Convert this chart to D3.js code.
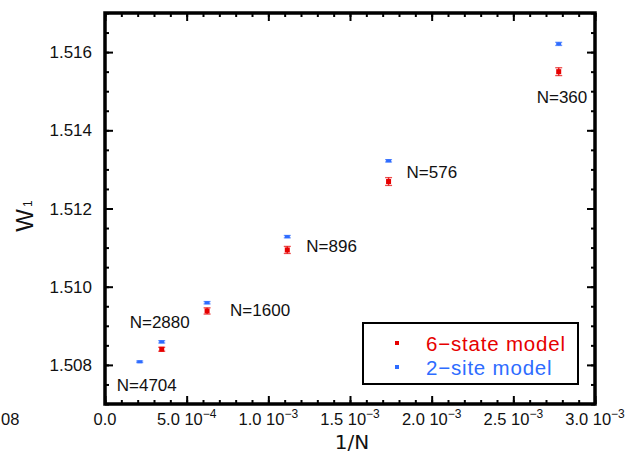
<!DOCTYPE html>
<html><head><meta charset="utf-8">
<script src="https://cdn.jsdelivr.net/npm/d3@7"></script>
<style>
html,body{margin:0;padding:0;background:#fff;}
svg{display:block;}
</style></head>
<body>
<svg id="c" width="635" height="454"></svg>
<script>
// ---- data ----
const sizesN = [360, 576, 896, 1600, 2880, 4704];
const sixStateW = [1.51550, 1.51269, 1.51094, 1.50938, 1.50840, null];
const sixStateErr = [0.00010, 0.00010, 0.00009, 0.00008, 0.00005, null];
const twoSiteW = [1.51621, 1.51322, 1.51128, 1.50959, 1.50859, 1.50808];
const twoSiteErr = [0.00004, 0.00003, 0.00003, 0.00003, 0.00003, 0.00002];
const xTickValues = [0, 0.0005, 0.0010, 0.0015, 0.0020, 0.0025, 0.0030];
const xTickMantissa = ["0.0", "5.0", "1.0", "1.5", "2.0", "2.5", "3.0"];
const xTickExponent = [null, "\u22124", "\u22123", "\u22123", "\u22123", "\u22123", "\u22123"];
const yTickValues = [1.508, 1.510, 1.512, 1.514, 1.516];
const yTickLabels = ["1.508", "1.510", "1.512", "1.514", "1.516"];
const seriesNames = ["6\u2212state model", "2\u2212site model"];
const seriesColors = ["#e60000", "#2e6cff"];

// ---- layout ----
const svg = d3.select("#c");
const L = 105, R = 595, T = 13, B = 404;
const x = d3.scaleLinear().domain([0, 0.003]).range([L, R]);
const y = d3.scaleLinear().domain([1.507, 1.517]).range([B, T]);
const numFont = "'Liberation Sans', Arial, sans-serif";

// minor + major ticks (inward) on all four sides
const xMinor = d3.range(0, 0.00301, 0.0001);
const yMinor = d3.range(1.507, 1.51701, 0.0005);
function tickGroup(axis, tx, ty) {
  const g = svg.append("g").attr("transform", `translate(${tx},${ty})`).call(axis);
  g.select(".domain").remove();
  g.selectAll("text").remove();
  g.selectAll("line").attr("stroke", "#000").attr("stroke-width", 2);
}
tickGroup(d3.axisBottom(x).tickValues(xMinor).tickSize(-4), 0, B);
tickGroup(d3.axisBottom(x).tickValues(xTickValues).tickSize(-8), 0, B);
tickGroup(d3.axisTop(x).tickValues(xMinor).tickSize(-4), 0, T);
tickGroup(d3.axisTop(x).tickValues(xTickValues).tickSize(-8), 0, T);
tickGroup(d3.axisLeft(y).tickValues(yMinor).tickSize(-4), L, 0);
tickGroup(d3.axisLeft(y).tickValues(yTickValues).tickSize(-8), L, 0);
tickGroup(d3.axisRight(y).tickValues(yMinor).tickSize(-4), R, 0);
tickGroup(d3.axisRight(y).tickValues(yTickValues).tickSize(-8), R, 0);

// frame
svg.append("rect").attr("x", L).attr("y", T).attr("width", R - L).attr("height", B - T)
  .attr("fill", "none").attr("stroke", "#000").attr("stroke-width", 3.5);

// y tick labels
svg.append("g").selectAll("text").data(yTickValues).join("text")
  .attr("x", L - 13).attr("y", d => y(d)).attr("dy", "0.36em")
  .attr("text-anchor", "end").attr("font-family", numFont).attr("font-size", 17)
  .attr("fill", "#111").text((d, i) => yTickLabels[i]);

// x tick labels
const xl = svg.append("g").selectAll("text").data(xTickValues).join("text")
  .attr("x", d => x(d)).attr("y", 425)
  .attr("text-anchor", "middle").attr("font-family", numFont).attr("font-size", 16.5)
  .attr("fill", "#111");
xl.each(function(d, i) {
  const t = d3.select(this);
  if (xTickExponent[i] === null) { t.text(xTickMantissa[i]); return; }
  t.append("tspan").text(xTickMantissa[i] + " 10");
  t.append("tspan").attr("dy", -7).attr("font-size", 12).text(xTickExponent[i]);
});

// stray label fragment at far left
svg.append("text").attr("x", 1).attr("y", 425).attr("text-anchor", "start")
  .attr("font-family", numFont).attr("font-size", 16.5).attr("fill", "#111").text("08");

// axis titles
svg.append("text").attr("x", 352).attr("y", 449).attr("text-anchor", "middle")
  .attr("font-family", "'DejaVu Sans', sans-serif").attr("font-size", 20).attr("fill", "#111").text("1/N");
const yt = svg.append("text").attr("transform", "translate(33,216) rotate(-90)")
  .attr("text-anchor", "middle").attr("font-family", numFont).attr("font-size", 24).attr("fill", "#111");
yt.append("tspan").text("W");
yt.append("tspan").attr("font-size", 12).attr("dy", -1).attr("dx", 2).text("1");

// data points with error bars
const series = [
  { vals: sixStateW, errs: sixStateErr, color: seriesColors[0], mh: 5 },
  { vals: twoSiteW, errs: twoSiteErr, color: seriesColors[1], mh: 3 }
];
series.forEach(s => {
  const pts = sizesN.map((n, i) => ({ xv: 1 / n, v: s.vals[i], e: s.errs[i] })).filter(p => p.v !== null);
  const g = svg.append("g");
  pts.forEach(p => {
    const cx = x(p.xv), y0 = y(p.v - p.e), y1 = y(p.v + p.e);
    g.append("line").attr("x1", cx).attr("x2", cx).attr("y1", y0).attr("y2", y1)
      .attr("stroke", s.color).attr("stroke-width", 1.5).attr("opacity", 0.8);
    [y0, y1].forEach(yy => g.append("line").attr("x1", cx - 3.5).attr("x2", cx + 3.5)
      .attr("y1", yy).attr("y2", yy).attr("stroke", s.color).attr("stroke-width", 1.3).attr("opacity", 0.7));
    g.append("rect").attr("x", cx - 2.5).attr("y", y(p.v) - s.mh / 2).attr("width", 5).attr("height", s.mh)
      .attr("fill", s.color);
  });
});

// N labels (anchored to the 2-site point)
const labelOffsets = { 360: [-22, 59], 576: [18, 17], 896: [19, 15], 1600: [23, 13], 2880: [-32, -14], 4704: [-23, 29] };
svg.append("g").selectAll("text").data(sizesN).join("text")
  .attr("x", (n) => x(1 / n) + labelOffsets[n][0])
  .attr("y", (n, i) => y(twoSiteW[i]) + labelOffsets[n][1])
  .attr("font-family", numFont).attr("font-size", 17).attr("fill", "#111")
  .text(n => "N=" + n);

// legend
const lg = svg.append("g");
lg.append("rect").attr("x", 363).attr("y", 323).attr("width", 215).attr("height", 61)
  .attr("fill", "#fff").attr("stroke", "#000").attr("stroke-width", 2);
seriesNames.forEach((name, i) => {
  const yy = 343 + i * 24;
  lg.append("rect").attr("x", 395).attr("y", yy - 2).attr("width", 4).attr("height", 4).attr("fill", seriesColors[i]);
  lg.append("text").attr("x", 426).attr("y", yy + 8).attr("font-family", numFont).attr("font-size", 20.5)
    .attr("letter-spacing", 0.8).attr("fill", seriesColors[i]).text(name);
});
</script>
</body></html>
